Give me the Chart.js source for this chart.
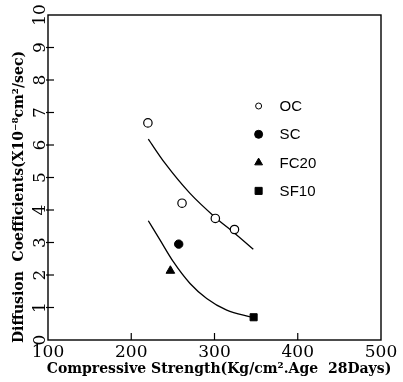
<!DOCTYPE html>
<html>
<head>
<meta charset="utf-8">
<script src="https://cdn.jsdelivr.net/npm/chart.js@4"></script>
<style>
  body { margin: 0; background: #fff; }
  canvas { display: block; }
</style>
</head>
<body>
<canvas id="myChart" width="403" height="382"></canvas>
<script>
// measured points (strength kg/cm2, diffusion coeff x10^-8)
const ocX = [220, 261, 301, 324];
const ocY = [6.68, 4.21, 3.74, 3.40];
const scX = [257];
const scY = [2.95];
const fcX = [247];
const fcY = [2.13];
const sfX = [347];
const sfY = [0.70];

// the two drawn regression curves
const upperX = [220.5, 240.5, 270.6, 300.6, 324.6, 346.6];
const upperY = [6.18, 5.44, 4.51, 3.78, 3.28, 2.79];
const lowerX = [220.5, 234.5, 250.5, 270.6, 290.6, 314.7, 344.7];
const lowerY = [3.67, 3.08, 2.41, 1.74, 1.28, 0.92, 0.70];

const xTicks = [100, 200, 300, 400, 500];
const yTicks = [0, 1, 2, 3, 4, 5, 6, 7, 8, 9, 10];

const xTitle = 'Compressive Strength(Kg/cm\u00b2.Age  28Days)';
const yTitle = 'Diffusion  Coefficients(X10\u207b\u2078cm\u00b2/sec)';

function pts(xs, ys) {
  return xs.map((x, i) => ({ x: x, y: ys[i] }));
}

const tickFont = '17px "DejaVu Serif"';
const titleFont = 'bold 14px "DejaVu Serif"';

// frame, inward ticks, rotated y labels, titles and the inset legend
const decor = {
  id: 'decor',
  afterDraw(chart) {
    const ctx = chart.ctx;
    const a = chart.chartArea;
    const xs = chart.scales.x;
    const ys = chart.scales.y;
    ctx.save();
    ctx.strokeStyle = '#000';
    ctx.lineWidth = 1.4;
    ctx.strokeRect(a.left, a.top, a.right - a.left, a.bottom - a.top);

    ctx.lineWidth = 1.2;
    xTicks.forEach(v => {
      if (v === xs.min || v === xs.max) return;
      const px = xs.getPixelForValue(v);
      ctx.beginPath();
      ctx.moveTo(px, a.bottom);
      ctx.lineTo(px, a.bottom - 7);
      ctx.stroke();
    });
    yTicks.forEach(v => {
      if (v === ys.min || v === ys.max) return;
      const py = ys.getPixelForValue(v);
      ctx.beginPath();
      ctx.moveTo(a.left - 2, py);
      ctx.lineTo(a.left + 6, py);
      ctx.stroke();
    });

    // y tick labels, turned like the scan
    ctx.fillStyle = '#000';
    ctx.font = tickFont;
    ctx.textAlign = 'center';
    ctx.textBaseline = 'middle';
    yTicks.forEach(v => {
      const py = ys.getPixelForValue(v);
      ctx.save();
      ctx.translate(a.left - 7, py);
      ctx.rotate(-Math.PI / 2);
      ctx.fillText(String(v), 0, 0);
      ctx.restore();
    });

    ctx.font = titleFont;
    ctx.fillText(xTitle, 219, 369);
    ctx.save();
    ctx.translate(19, 197);
    ctx.rotate(-Math.PI / 2);
    ctx.fillText(yTitle, 0, 0);
    ctx.restore();

    // legend
    ctx.font = '15px "Liberation Sans"';
    ctx.textAlign = 'left';
    const lx = xs.getPixelForValue(353);
    const ly = ys.getPixelForValue(7.2);
    const step = 28.3;
    chart.data.datasets.forEach((ds, i) => {
      if (!ds.inLegend) return;
      const y = ly + ds.inLegend * step - step;
      ctx.fillStyle = ds.pointBackgroundColor;
      ctx.strokeStyle = '#000';
      ctx.lineWidth = 1;
      Chart.helpers.drawPoint(ctx, {
        pointStyle: ds.pointStyle,
        radius: ds.legendRadius,
        borderWidth: 1
      }, lx, y);
      ctx.fillStyle = '#000';
      ctx.fillText(ds.label, lx + 21, y + 1);
    });
    ctx.restore();
  }
};

const ctx = document.getElementById('myChart').getContext('2d');
const myChart = new Chart(ctx, {
  type: 'scatter',
  data: {
    datasets: [
      {
        label: 'OC', data: pts(ocX, ocY), inLegend: 1, legendRadius: 3,
        pointStyle: 'circle', pointRadius: 4.2, pointBackgroundColor: '#fff',
        pointBorderColor: '#000', pointBorderWidth: 1.2
      },
      {
        label: 'SC', data: pts(scX, scY), inLegend: 2, legendRadius: 4,
        pointStyle: 'circle', pointRadius: 4.2, pointBackgroundColor: '#000',
        pointBorderColor: '#000', pointBorderWidth: 1
      },
      {
        label: 'FC20', data: pts(fcX, fcY), inLegend: 3, legendRadius: 4.5,
        pointStyle: 'triangle', pointRadius: 5, pointBackgroundColor: '#000',
        pointBorderColor: '#000', pointBorderWidth: 1
      },
      {
        label: 'SF10', data: pts(sfX, sfY), inLegend: 4, legendRadius: 5,
        pointStyle: 'rect', pointRadius: 5, pointBackgroundColor: '#000',
        pointBorderColor: '#000', pointBorderWidth: 1
      },
      {
        label: 'fit1', data: pts(upperX, upperY), showLine: true,
        borderColor: '#000', borderWidth: 1.3, pointRadius: 0,
        cubicInterpolationMode: 'monotone'
      },
      {
        label: 'fit2', data: pts(lowerX, lowerY), showLine: true,
        borderColor: '#000', borderWidth: 1.3, pointRadius: 0,
        cubicInterpolationMode: 'monotone'
      }
    ]
  },
  options: {
    responsive: false,
    animation: false,
    layout: { padding: { top: 15, right: 22, left: 0, bottom: 0 } },
    plugins: {
      legend: { display: false },
      tooltip: { enabled: false }
    },
    scales: {
      x: {
        type: 'linear', min: 100, max: 500,
        afterFit: s => { s.height = 42; },
        afterBuildTicks: s => { s.ticks = xTicks.map(v => ({ value: v })); },
        grid: { display: false, drawTicks: false },
        border: { display: false },
        ticks: {
          autoSkip: false, maxRotation: 0, padding: 2,
          color: '#000', font: { family: 'DejaVu Serif', size: 17 }
        }
      },
      y: {
        type: 'linear', min: 0, max: 10,
        afterFit: s => { s.width = 48; },
        afterBuildTicks: s => { s.ticks = yTicks.map(v => ({ value: v })); },
        grid: { display: false, drawTicks: false },
        border: { display: false },
        ticks: { display: false }
      }
    }
  },
  plugins: [decor]
});
</script>
</body>
</html>
